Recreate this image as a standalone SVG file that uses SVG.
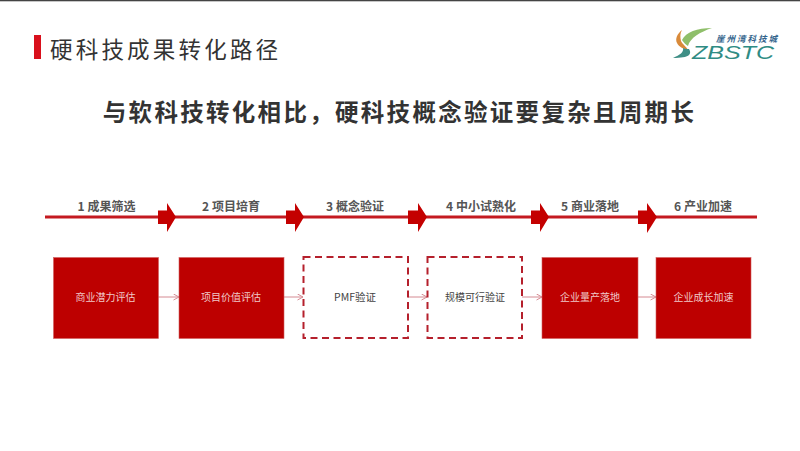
<svg xmlns="http://www.w3.org/2000/svg" width="800" height="451" viewBox="0 0 800 451">
<defs>
<style>
text{font-family:"Noto Sans CJK SC","Liberation Sans",sans-serif}
.step{font-size:12px;font-weight:700;fill:#555;text-anchor:middle}
.lw{font-size:10px;fill:#f0c8c8;text-anchor:middle}
.ld{font-size:10px;fill:#444;text-anchor:middle}
.solid{fill:#bd0000;stroke:#d06060;stroke-width:.6}
.dash{fill:#fff;stroke:#b5202c;stroke-width:2;stroke-dasharray:7 4.5}
.conn{stroke:#d58a92;stroke-width:1;fill:none}
.arr{fill:#c40000}
</style>
<marker id="open" markerWidth="8" markerHeight="8" refX="6.5" refY="3.5" orient="auto" markerUnits="userSpaceOnUse"><path d="M1 .5L6.5 3.5L1 6.5" fill="none" stroke="#d58a92" stroke-width="1"/></marker>
</defs>
<rect width="800" height="451" fill="#fff"/>
<rect width="800" height="1.3" fill="#444"/>
<g id="title">
<rect x="34" y="35" width="7" height="24" fill="#d9101c"/>
<text x="50" y="57.500" font-size="22.500" letter-spacing="3.200" fill="#333">硬科技成果转化路径</text>
</g>
<g id="logo">
<path d="M712 28C697 28 686 32 682 40C684 43 686 45 688 46C690 38 700 32 712 28Z" fill="#8fbf6a"/>
<path d="M682 30C677 34 675 39 677 43C679 47 684 49 688 50C687 47 683 45 681 41C680 37 680 33 682 30Z" fill="#d98a3a"/>
<path d="M689 49C692 54 690 58 673 58C680 55 684 52 683 48C685 49 687 49 689 49Z" fill="#3f8f86"/>
<text x="716" y="41.500" font-size="8.500" font-weight="700" font-style="italic" fill="#33648c" letter-spacing="2">崖州湾科技城</text>
<text x="692" y="59" font-size="18" font-style="italic" font-weight="400" fill="#2f8c84" textLength="82" lengthAdjust="spacingAndGlyphs" style="font-family:'Liberation Sans',sans-serif">ZBSTC</text>
</g>
<text x="399.500" y="121" font-size="23.500" font-weight="700" letter-spacing="2.300" fill="#333" text-anchor="middle">与软科技转化相比，硬科技概念验证要复杂且周期长</text>
<g id="connectors">
<path d="M45 217H757" stroke="#c41a20" stroke-width="3" fill="none"/>
<path class="arr" d="M158 210.500H167V203L176 217L167 232V224H158Z"/>
<path class="arr" d="M286 210.500H295V203L304 217L295 232V224H286Z"/>
<path class="arr" d="M408 210.500H418V203L427 217L418 232V224H408Z"/>
<path class="arr" d="M531 210.500H540V203L549 217L540 232V224H531Z"/>
<path class="arr" d="M638 210.500H647V203L657 217L647 233V224H638Z"/>
<path class="conn" marker-end="url(#open)" d="M158 297H179"/>
<path class="conn" marker-end="url(#open)" d="M284 297H303"/>
<path class="conn" marker-end="url(#open)" d="M408 297H427"/>
<path class="conn" marker-end="url(#open)" d="M522 297H542"/>
<path class="conn" marker-end="url(#open)" d="M638 297H656"/>
</g>
<g id="steps">
<text class="step" x="106.500" y="211">1 成果筛选</text>
<text class="step" x="231" y="211">2 项目培育</text>
<text class="step" x="355" y="211">3 概念验证</text>
<text class="step" x="481" y="211">4 中小试熟化</text>
<text class="step" x="590" y="211">5 商业落地</text>
<text class="step" x="703" y="211">6 产业加速</text>
</g>
<g id="node1"><rect class="solid" x="53.500" y="257.500" width="105" height="81"/><text class="lw" x="105.500" y="301">商业潜力评估</text></g>
<g id="node2"><rect class="solid" x="179" y="257.500" width="105" height="81"/><text class="lw" x="231" y="301">项目价值评估</text></g>
<g id="node3"><rect class="dash" x="303.500" y="257" width="104.500" height="81"/><text class="ld" x="355" y="301" style="font-size:10.500px">PMF验证</text></g>
<g id="node4"><rect class="dash" x="427.500" y="257" width="94.500" height="81"/><text class="ld" x="475" y="301">规模可行验证</text></g>
<g id="node5"><rect class="solid" x="542" y="257.500" width="96" height="81"/><text class="lw" x="590" y="301">企业量产落地</text></g>
<g id="node6"><rect class="solid" x="656" y="257.500" width="95" height="81"/><text class="lw" x="703.500" y="301">企业成长加速</text></g>
</svg>
